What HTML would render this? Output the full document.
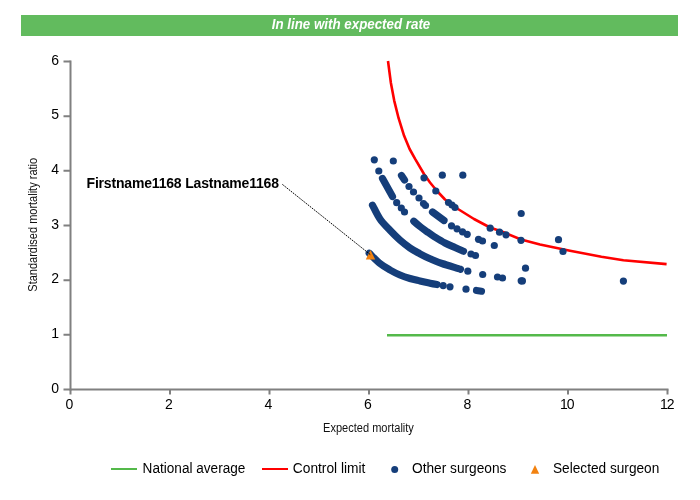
<!DOCTYPE html>
<html><head><meta charset="utf-8"><title>In line with expected rate</title>
<style>
html,body{margin:0;padding:0;background:#fff;}
body{width:700px;height:500px;overflow:hidden;font-family:"Liberation Sans",Arial,sans-serif;}
svg{display:block;}
text{font-family:"Liberation Sans",Arial,sans-serif;}
.tl{font-size:14px;fill:#000;}
.ax{font-size:12px;fill:#111;}
.lg{font-size:14px;fill:#000;}
</style></head><body>
<svg width="700" height="500" viewBox="0 0 700 500">
<rect x="0" y="0" width="700" height="500" fill="#fff"/>
<!-- title bar -->
<rect x="21" y="15" width="657" height="21" fill="#62bb5e"/>
<text x="351" y="29.4" text-anchor="middle" font-size="14" font-weight="bold" font-style="italic" fill="#fff" textLength="158.6" lengthAdjust="spacingAndGlyphs">In line with expected rate</text>
<!-- axes -->
<g stroke="#808080" stroke-width="2" fill="none">
<path d="M70.5 60.5V390.5"/>
<path d="M63.5 389.5H668.5"/>
<path d="M63.5 61.5H70.5M63.5 116.2H70.5M63.5 170.8H70.5M63.5 225.5H70.5M63.5 280.2H70.5M63.5 334.8H70.5"/>
<path d="M70.5 389.5V394.5M170 389.5V394.5M269.5 389.5V394.5M369 389.5V394.5M468.5 389.5V394.5M568 389.5V394.5M667.5 389.5V394.5"/>
</g>
<!-- y tick labels -->
<g class="tl" text-anchor="end">
<text x="59" y="64.6">6</text><text x="59" y="119.3">5</text><text x="59" y="173.9">4</text><text x="59" y="228.6">3</text><text x="59" y="283.3">2</text><text x="59" y="337.9">1</text><text x="59" y="392.6">0</text>
</g>
<g class="tl" text-anchor="middle">
<text x="69.5" y="409">0</text><text x="169" y="409">2</text><text x="268.5" y="409">4</text><text x="368" y="409">6</text><text x="467.5" y="409">8</text><text x="567.3" y="409" textLength="14.4">10</text><text x="667.3" y="409" textLength="14.4">12</text>
</g>
<text class="ax" x="368.5" y="431.8" text-anchor="middle" textLength="90.8" lengthAdjust="spacingAndGlyphs">Expected mortality</text>
<text class="ax" transform="translate(36.6,224.8) rotate(-90)" text-anchor="middle" textLength="133.8" lengthAdjust="spacingAndGlyphs">Standardised mortality ratio</text>
<!-- national average -->
<path d="M387 335.2H667" stroke="#54b94a" stroke-width="2.4" fill="none"/>
<!-- control limit -->
<path id="cl" d="M388 61L390.9 83L394.2 100.6L398.6 118.2L404.1 135.8L409.6 149L415.1 158.9L424 174L430 182.5L437 191L445 199.5L458 209L474 219L490 227.5L503 232L521 239.5L540 244.5L564 249.5L570 250.7L601.4 256.7L623.4 260.2L666.6 264.1" stroke="#ff0000" stroke-width="2.6" fill="none" stroke-linejoin="round"/>
<!-- other surgeons -->
<g id="dots" fill="#153e7a" stroke="#153e7a" stroke-width="7.2" stroke-linecap="round" stroke-linejoin="round">
<path fill="none" d="M369.2 253.2C371.0 254.9 376.5 260.7 380.0 263.5C383.5 266.3 386.7 268.1 390.0 270.0C393.3 271.9 396.7 273.6 400.0 275.0C403.3 276.4 406.7 277.5 410.0 278.5C413.3 279.5 416.7 280.2 420.0 281.0C423.3 281.8 427.2 282.6 430.0 283.2C432.8 283.8 435.8 284.3 437.0 284.5"/>
<path fill="none" d="M476.5 290.5L481.5 291.2"/>
<path fill="none" d="M372.5 205.2C373.8 207.5 377.1 214.8 380.0 219.0C382.9 223.2 386.7 226.8 390.0 230.3C393.3 233.8 396.7 237.2 400.0 240.2C403.3 243.1 406.7 245.7 410.0 248.0C413.3 250.3 416.7 252.0 420.0 253.8C423.3 255.6 426.3 257.1 430.0 258.7C433.7 260.3 436.9 261.8 442.0 263.5C447.1 265.2 457.4 268.2 460.5 269.2"/>
<path fill="none" d="M382.5 178.5L392.5 196.5"/>
<path fill="none" d="M413.8 221.2C414.8 222.1 417.7 224.7 420.0 226.5C422.3 228.3 425.2 230.3 427.5 232.0C429.8 233.7 431.1 234.7 434.0 236.5C436.9 238.3 441.5 241.2 445.0 243.0C448.5 244.8 451.9 246.1 455.0 247.5C458.1 248.9 462.1 250.6 463.5 251.2"/>
<path fill="none" d="M401.5 175.5L404.5 180.0"/>
<path fill="none" d="M432.5 212.0L444.0 220.5"/>
<g stroke="none"><circle cx="374.3" cy="159.8" r="3.6"/><circle cx="378.8" cy="171" r="3.6"/><circle cx="396.7" cy="202.7" r="3.6"/><circle cx="401.3" cy="208" r="3.6"/><circle cx="404.5" cy="212" r="3.6"/><circle cx="471" cy="254" r="3.6"/><circle cx="475.5" cy="255.5" r="3.6"/><circle cx="525.5" cy="268.2" r="3.6"/><circle cx="393.3" cy="161" r="3.6"/><circle cx="409" cy="186.5" r="3.6"/><circle cx="413.5" cy="192" r="3.6"/><circle cx="419" cy="198" r="3.6"/><circle cx="423.5" cy="203.5" r="3.6"/><circle cx="425.5" cy="205.5" r="3.6"/><circle cx="451.5" cy="225.8" r="3.6"/><circle cx="457" cy="228.8" r="3.6"/><circle cx="462.5" cy="231.8" r="3.6"/><circle cx="467.2" cy="234.3" r="3.6"/><circle cx="478.5" cy="239.3" r="3.6"/><circle cx="482.5" cy="241" r="3.6"/><circle cx="494.3" cy="245.5" r="3.6"/><circle cx="424" cy="177.8" r="3.6"/><circle cx="435.8" cy="191" r="3.6"/><circle cx="448.5" cy="202.5" r="3.6"/><circle cx="452" cy="205" r="3.6"/><circle cx="455" cy="207.5" r="3.6"/><circle cx="490.2" cy="228.2" r="3.6"/><circle cx="499.5" cy="232.2" r="3.6"/><circle cx="506" cy="234.8" r="3.6"/><circle cx="521" cy="240.3" r="3.6"/><circle cx="563" cy="251.5" r="3.6"/><circle cx="442.3" cy="175.2" r="3.6"/><circle cx="462.8" cy="175.2" r="3.6"/><circle cx="521.2" cy="213.5" r="3.6"/><circle cx="558.5" cy="239.7" r="3.6"/><circle cx="623.4" cy="281.1" r="3.6"/><circle cx="443.2" cy="285.6" r="3.6"/><circle cx="450" cy="286.8" r="3.6"/><circle cx="466" cy="289.2" r="3.6"/><circle cx="467.8" cy="271.2" r="3.6"/><circle cx="482.7" cy="274.5" r="3.6"/><circle cx="497.5" cy="277" r="3.6"/><circle cx="502.5" cy="278" r="3.6"/><circle cx="521.2" cy="280.8" r="3.6"/><circle cx="522.4" cy="280.9" r="3.6"/></g>
</g>
<!-- leader -->
<text x="86.5" y="187.6" font-size="14" font-weight="bold" fill="#000" textLength="192.5" lengthAdjust="spacing">Firstname1168 Lastname1168</text>
<!-- selected surgeon -->
<path d="M370.5 250L375.2 259.5H365.8Z" fill="#f28210"/>
<path d="M282.4 184.4L370.3 254.6" stroke="#000" stroke-width="1" stroke-dasharray="1.7 1" fill="none"/>
<!-- legend -->
<path d="M111 469H137" stroke="#54b94a" stroke-width="2" fill="none"/>
<text class="lg" x="142.6" y="473" textLength="102.8" lengthAdjust="spacingAndGlyphs">National average</text>
<path d="M262 469H288" stroke="#ff0000" stroke-width="2" fill="none"/>
<text class="lg" x="292.8" y="473" textLength="72.6" lengthAdjust="spacingAndGlyphs">Control limit</text>
<circle cx="394.7" cy="469.6" r="3.5" fill="#153e7a"/>
<text class="lg" x="412" y="473" textLength="94.4" lengthAdjust="spacingAndGlyphs">Other surgeons</text>
<path d="M535 465L539.2 473.8H530.8Z" fill="#f28210"/>
<text class="lg" x="553" y="473" textLength="106.3" lengthAdjust="spacingAndGlyphs">Selected surgeon</text>
</svg>
</body></html>
